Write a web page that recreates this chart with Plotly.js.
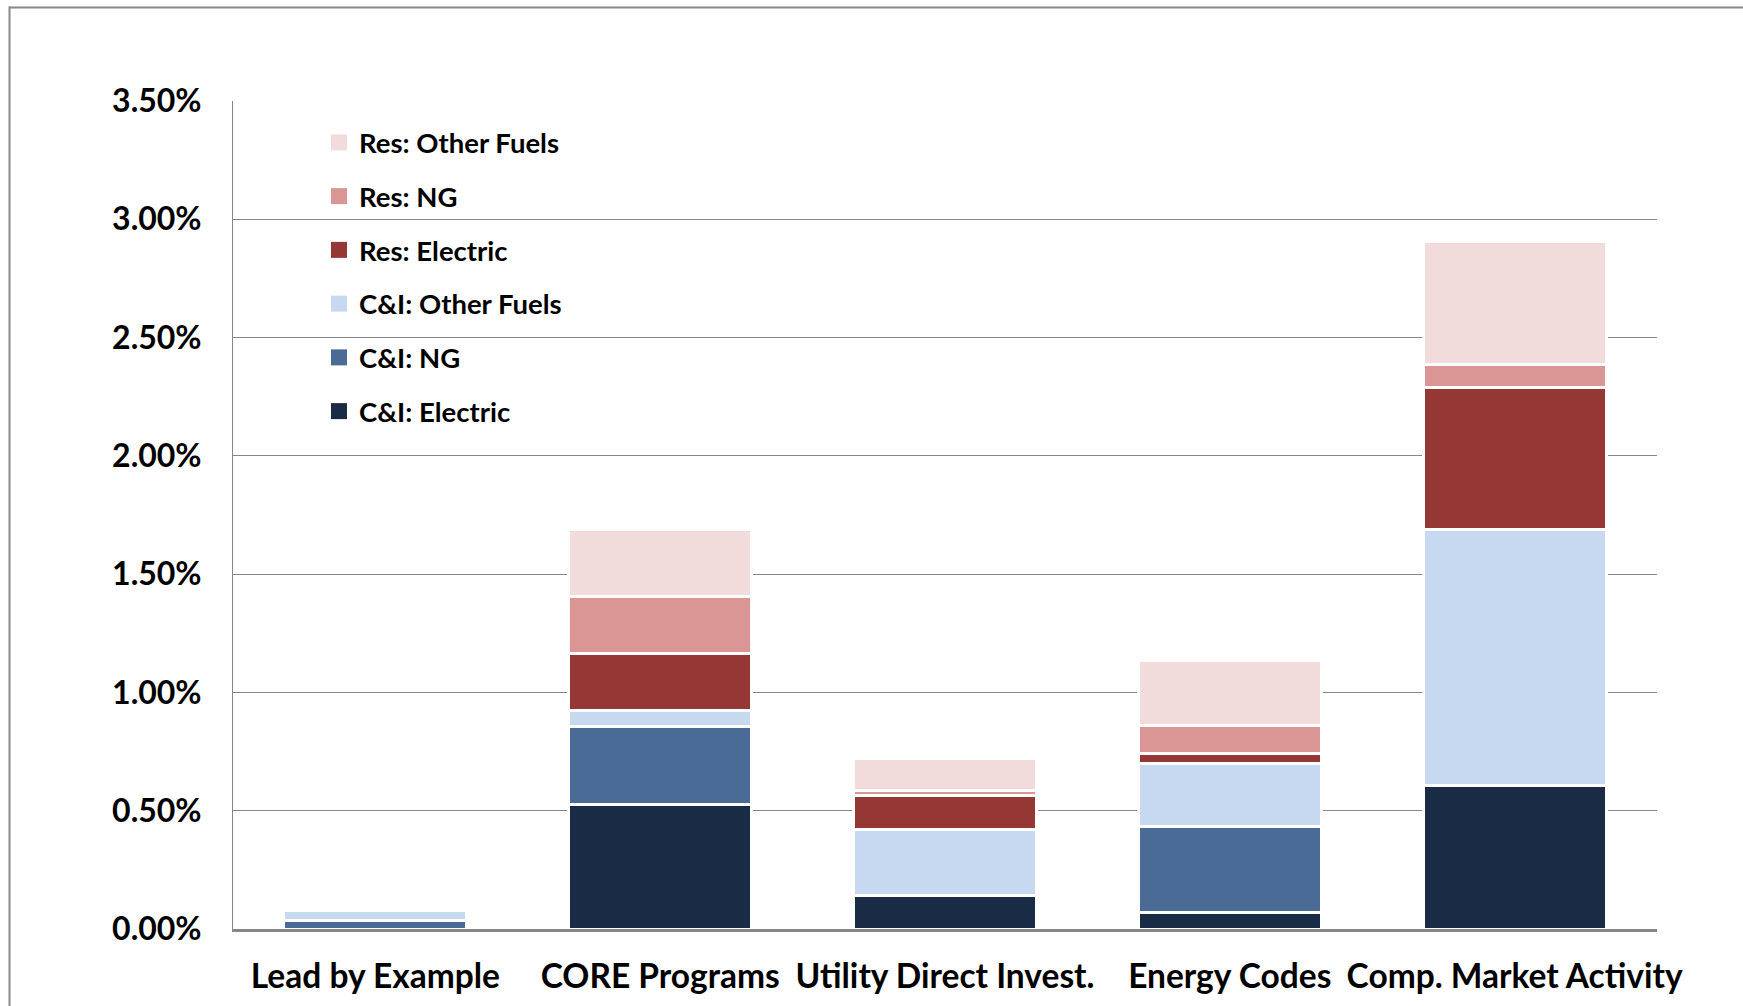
<!DOCTYPE html>
<html>
<head>
<meta charset="utf-8">
<script src="https://cdn.plot.ly/plotly-3.0.1.min.js"></script>
<style>
  html, body { margin: 0; padding: 0; background: #ffffff; }
  #chart { width: 1743px; height: 1006px; }
</style>
</head>
<body>
<div id="chart"></div>
<script>
// Share of savings by program area and sector/fuel (percent)
const categories = ["Lead by Example", "CORE Programs", "Utility Direct Invest.", "Energy Codes", "Comp. Market Activity"];

const ciElectric   = [0.000, 0.528, 0.140, 0.070, 0.605];
const ciNG         = [0.035, 0.330, 0.000, 0.365, 0.000];
const ciOtherFuels = [0.045, 0.065, 0.280, 0.265, 1.085];
const resElectric  = [0.000, 0.240, 0.145, 0.040, 0.600];
const resNG        = [0.000, 0.243, 0.020, 0.120, 0.095];
const resOtherFuels= [0.000, 0.284, 0.135, 0.275, 0.520];

const seriesNames = ["C&I: Electric", "C&I: NG", "C&I: Other Fuels", "Res: Electric", "Res: NG", "Res: Other Fuels"];
const seriesValues = [ciElectric, ciNG, ciOtherFuels, resElectric, resNG, resOtherFuels];
const seriesColors = ["#1a2b45", "#4a6b95", "#c6d9f0", "#953735", "#d99694", "#f2dcdb"];

const FONT = "Lato, 'Liberation Sans', Arial, sans-serif";

// plot area in pixels
const W = 1743, H = 1006;
const M = { l: 233, r: 86, t: 101, b: 77 };
const plotW = W - M.l - M.r, plotH = H - M.t - M.b;
const px2x = p => (p - M.l) / plotW;
const px2y = p => (H - M.b - p) / plotH;

// stacked bars (white outlines separate the segments)
const barTraces = seriesNames.map((name, i) => ({
  type: "bar",
  name: name,
  x: categories,
  y: seriesValues[i],
  showlegend: false,
  marker: { color: seriesColors[i], line: { color: "#ffffff", width: 3 } },
  hoverinfo: "name+y"
}));

// legend keys: solid square swatches, top entry = top of the stack
const keyTraces = seriesNames.map((name, i) => ({
  type: "scatter",
  mode: "markers",
  name: name,
  x: [null],
  y: [null],
  legendgroup: "k" + i,
  legendrank: 1000 - i * 10,
  marker: { symbol: "square", size: 16, color: seriesColors[i], line: { width: 0 } },
  hoverinfo: "skip"
}));

const layout = {
  width: W,
  height: H,
  margin: M,
  paper_bgcolor: "#ffffff",
  plot_bgcolor: "#ffffff",
  barmode: "stack",
  bargap: 0.357,
  font: { family: FONT, color: "#000000" },
  showlegend: true,
  legend: {
    x: px2x(319),
    y: px2y(118),
    xanchor: "left",
    yanchor: "top",
    traceorder: "grouped",
    tracegroupgap: 15,
    itemsizing: "trace",
    bgcolor: "rgba(0,0,0,0)",
    font: { family: FONT, size: 27.5, weight: "bold", color: "#000000" }
  },
  xaxis: {
    type: "category",
    showgrid: false,
    showline: true,
    linecolor: "#878787",
    linewidth: 3,
    ticks: "outside",
    ticklen: 16,
    tickcolor: "rgba(0,0,0,0)",
    tickfont: { family: FONT, size: 33.5, weight: "bold", color: "#000000" },
    fixedrange: true
  },
  yaxis: {
    range: [0, 3.5],
    dtick: 0.5,
    tick0: 0,
    tickformat: ".2f",
    ticksuffix: "%",
    showgrid: true,
    gridcolor: "#878787",
    gridwidth: 1,
    zeroline: false,
    showline: true,
    linecolor: "#878787",
    linewidth: 1,
    ticks: "outside",
    ticklen: 24,
    tickcolor: "rgba(0,0,0,0)",
    tickfont: { family: FONT, size: 32, weight: "bold", color: "#000000" },
    fixedrange: true
  },
  shapes: [
    // outer frame: top and left edges
    { type: "line", xref: "paper", yref: "paper",
      x0: px2x(9), x1: px2x(W + 5), y0: px2y(7.5), y1: px2y(7.5),
      line: { color: "#888888", width: 2 } },
    { type: "line", xref: "paper", yref: "paper",
      x0: px2x(9.5), x1: px2x(9.5), y0: px2y(6.5), y1: px2y(H + 5),
      line: { color: "#888888", width: 2 } }
  ]
};

Plotly.newPlot("chart", barTraces.concat(keyTraces), layout, { displayModeBar: false, responsive: false });
</script>
</body>
</html>
